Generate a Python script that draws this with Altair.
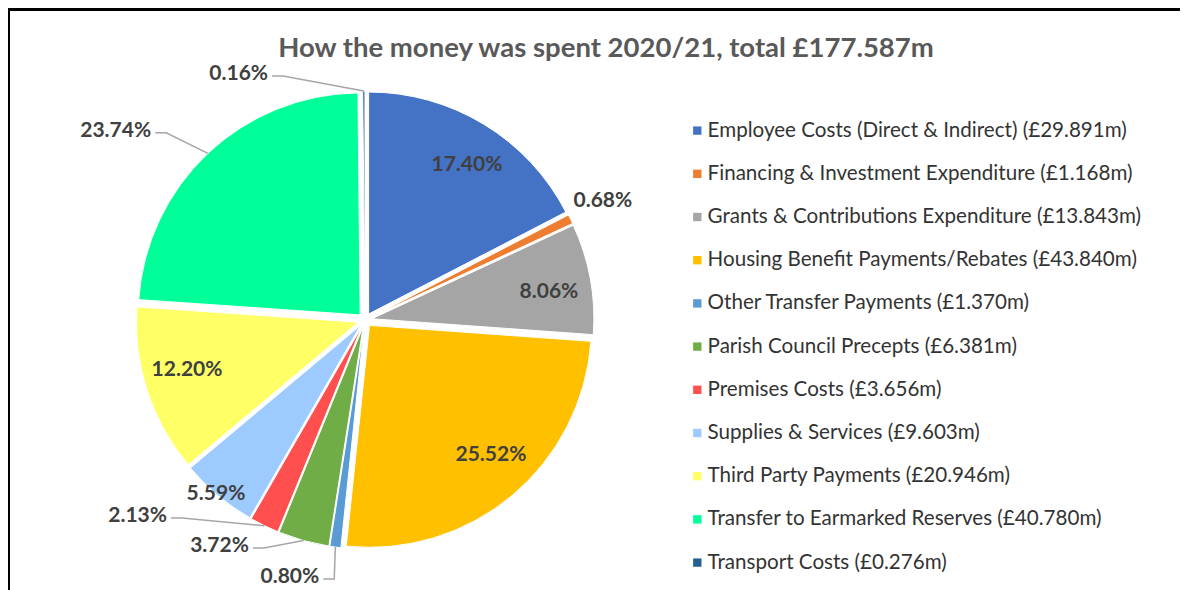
import math
import altair as alt
import pandas as pd

# ---------------- data ----------------
categories = [
    "Employee Costs (Direct & Indirect)",
    "Financing & Investment Expenditure",
    "Grants & Contributions Expenditure",
    "Housing Benefit Payments/Rebates",
    "Other Transfer Payments",
    "Parish Council Precepts",
    "Premises Costs",
    "Supplies & Services",
    "Third Party Payments",
    "Transfer to Earmarked Reserves",
    "Transport Costs",
]
amounts = [29.891, 1.168, 13.843, 43.840, 1.370, 6.381, 3.656, 9.603, 20.946, 40.780, 0.276]
colors = ["#4472C4", "#ED7D31", "#A5A5A5", "#FFC000", "#5B9BD5", "#70AD47",
          "#FF4F4F", "#9DCBFF", "#FFFF66", "#00FF99", "#255E91"]
title_text = "How the money was spent 2020/21, total £177.587m"

# ---------------- layout (style) ----------------
W, H = 1172, 582
CX, CY = 357, 312          # pie centre
R = 222                    # pie radius
EXPLODE = 7                # slice explosion distance
FONT = "Lato"
# label placement (polar, degrees clockwise from 12 o'clock, radius from pie centre)
# "in" = centred label, "lead" = right-aligned label with leader line
label_style = [("in", 33.3, 185.6), ("in", 63.4, 266), ("in", 81.3, 186.1), ("in", 137.0, 184.7),
               ("lead", 190.1, 261), ("lead", 207.2, 254), ("lead", 225.3, 278.6),
               ("in", 220.6, 229), ("in", 254.3, 184.9), ("lead", 311.5, 285.5), ("lead", 338.5, 264.4)]

legend_labels = [f"{c} (£{a:.3f}m)" for c, a in zip(categories, amounts)]
total = sum(amounts)

pie_df = pd.DataFrame({"label": legend_labels, "value": amounts, "order": list(range(len(amounts)))})

# label and leader line tables built from the values
mids, cum = [], 0.0
for a in amounts:
    mids.append((cum + a / 2) / total * 360.0)
    cum += a

def polar(ang, r):
    t = math.radians(ang)
    return CX + r * math.sin(t), CY - r * math.cos(t)

in_rows, out_rows, lead_rows = [], [], []
for i, (a, m, st) in enumerate(zip(amounts, mids, label_style)):
    txt = f"{a / total * 100:.2f}%"
    x, y = polar(st[1], st[2])
    if st[0] == "in":
        in_rows.append({"x": x, "y": y, "text": txt})
    else:
        out_rows.append({"x": x, "y": y, "text": txt})
        rx, ry = polar(m, R + EXPLODE)
        pts = [(rx, ry), (x + 15, y + 2), (x + 4, y + 2)]
        for k, (px, py) in enumerate(pts):
            lead_rows.append({"g": i, "k": k, "x": px, "y": py})

in_df = pd.DataFrame(in_rows)
out_df = pd.DataFrame(out_rows)
lead_df = pd.DataFrame(lead_rows)

xs = alt.Scale(domain=[0, W], nice=False, zero=False)
ys = alt.Scale(domain=[H, 0], nice=False, zero=False)

pie = (
    alt.Chart(pie_df)
    .transform_joinaggregate(total="sum(value)")
    .transform_window(cum="sum(value)", sort=[alt.SortField("order")], frame=[None, 0])
    .transform_calculate(
        mid="2*PI*(datum.cum - datum.value/2)/datum.total",
        dx=f"{EXPLODE}*sin(datum.mid)",
        dy=f"-{EXPLODE}*cos(datum.mid)",
    )
    .mark_arc(radius=R, stroke="white", strokeWidth=1,
              xOffset=alt.ExprRef("datum.dx"), yOffset=alt.ExprRef("datum.dy"))
    .encode(
        theta=alt.Theta("value:Q", stack=True),
        order=alt.Order("order:Q"),
        color=alt.Color(
            "label:N",
            scale=alt.Scale(domain=legend_labels, range=colors),
            legend=alt.Legend(
                title=None, orient="none", legendX=679, legendY=112.3,
                symbolType="square", symbolSize=70, symbolStrokeWidth=0,
                labelFont=FONT, labelFontSize=20.6, labelColor="#333333",
                labelOffset=0, rowPadding=22.2, labelLimit=600, padding=0,
            ),
        ),
        x=alt.value(CX),
        y=alt.value(CY),
    )
)

leaders = (
    alt.Chart(lead_df)
    .mark_line(color="#A6A6A6", strokeWidth=1.5)
    .encode(x=alt.X("x:Q", scale=xs, axis=None), y=alt.Y("y:Q", scale=ys, axis=None),
            detail="g:N", order="k:Q")
)

in_labels = (
    alt.Chart(in_df)
    .mark_text(font=FONT, fontSize=21, fontWeight="bold", color="#404040", align="center", baseline="middle")
    .encode(x=alt.X("x:Q", scale=xs, axis=None), y=alt.Y("y:Q", scale=ys, axis=None), text="text:N")
)

out_labels = (
    alt.Chart(out_df)
    .mark_text(font=FONT, fontSize=21, fontWeight="bold", color="#404040", align="right", baseline="middle")
    .encode(x=alt.X("x:Q", scale=xs, axis=None), y=alt.Y("y:Q", scale=ys, axis=None), text="text:N")
)

one = pd.DataFrame({"a": [0]})
title = (
    alt.Chart(one)
    .mark_text(text=title_text, font=FONT, fontSize=27.5, fontWeight="bold", color="#595959",
               align="center", baseline="alphabetic")
    .encode(x=alt.value(598), y=alt.value(49))
)
border_top = alt.Chart(one).mark_rule(color="black", strokeWidth=3).encode(
    x=alt.value(0), x2=alt.value(W), y=alt.value(1.5))
border_left = alt.Chart(one).mark_rule(color="black", strokeWidth=3).encode(
    x=alt.value(0.5), y=alt.value(0), y2=alt.value(H))

chart = (
    alt.layer(pie, leaders, in_labels, out_labels, title, border_top, border_left)
    .properties(width=W, height=H, padding=0, autosize=alt.AutoSizeParams(type="none"))
    .configure_view(stroke=None)
)

chart.save("out.html", embed_options={"renderer": "svg", "actions": False})
